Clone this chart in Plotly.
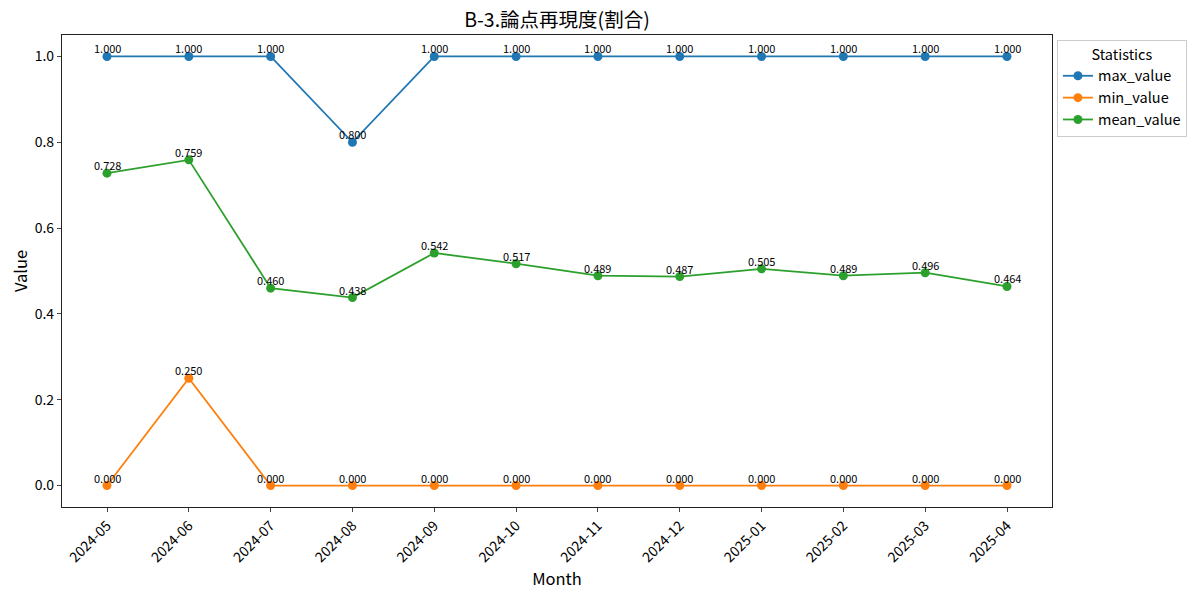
import plotly.graph_objects as go

months = ["2024-05", "2024-06", "2024-07", "2024-08", "2024-09", "2024-10",
          "2024-11", "2024-12", "2025-01", "2025-02", "2025-03", "2025-04"]
max_value = [1.0, 1.0, 1.0, 0.8, 1.0, 1.0, 1.0, 1.0, 1.0, 1.0, 1.0, 1.0]
min_value = [0.0, 0.25, 0.0, 0.0, 0.0, 0.0, 0.0, 0.0, 0.0, 0.0, 0.0, 0.0]
mean_value = [0.728, 0.759, 0.460, 0.438, 0.542, 0.517, 0.489, 0.487, 0.505, 0.489, 0.496, 0.464]

series = [("max_value", max_value, "#1f77b4"),
          ("min_value", min_value, "#ff7f0e"),
          ("mean_value", mean_value, "#2ca02c")]

FONT = "Noto Sans CJK JP"

# the html page has an 8px body margin, so the figure is a bit smaller than the window
W, H = 1192, 587

fig = go.Figure()
idx = list(range(len(months)))
for name, vals, color in series:
    fig.add_trace(go.Scatter(
        x=idx, y=vals, name=name, mode="lines+markers",
        line=dict(color=color, width=1.8),
        marker=dict(color=color, size=9),
    ))
    # value labels sit right on top of the markers
    for i, v in zip(idx, vals):
        fig.add_annotation(x=i, y=v, text=f"{v:.3f}", showarrow=False,
                           yanchor="bottom", xanchor="center", yshift=-2,
                           font=dict(size=11, color="black", family=FONT))

fig.update_layout(
    width=W, height=H,
    margin=dict(l=54, r=148, t=27, b=88, autoexpand=False),
    paper_bgcolor="white", plot_bgcolor="white",
    font=dict(family=FONT, color="black"),
    title=dict(text="B-3.論点再現度(割合)", x=0.5, xref="paper", xanchor="center",
               y=1 - 12 / H, yanchor="middle", font=dict(size=19.5)),
    legend=dict(title=dict(text="Statistics", side="top center", font=dict(size=14.5)),
                x=1.005, y=1 - 5 / 472, xanchor="left", yanchor="top",
                bordercolor="#cccccc", borderwidth=1, font=dict(size=14.5),
                itemwidth=30),
    showlegend=True,
)
fig.update_xaxes(
    range=[-0.55, 11.55], tickmode="array", tickvals=idx, ticktext=months,
    tickangle=-45, ticks="outside", ticklen=4, tickfont=dict(size=14),
    showline=True, linecolor="#222222", linewidth=1.2, mirror=True, showgrid=False,
    zeroline=False, automargin=False,
    title=dict(text="Month", font=dict(size=16.5), standoff=6),
)
fig.update_yaxes(
    range=[-0.05, 1.05], tickvals=[0.0, 0.2, 0.4, 0.6, 0.8, 1.0],
    tickformat=".1f", ticks="outside", ticklen=4, tickfont=dict(size=14),
    showline=True, linecolor="#222222", linewidth=1.2, mirror=True, showgrid=False,
    zeroline=False, automargin=False,
    title=dict(text="Value", font=dict(size=16.5), standoff=8),
)

fig.write_html("out.html")
